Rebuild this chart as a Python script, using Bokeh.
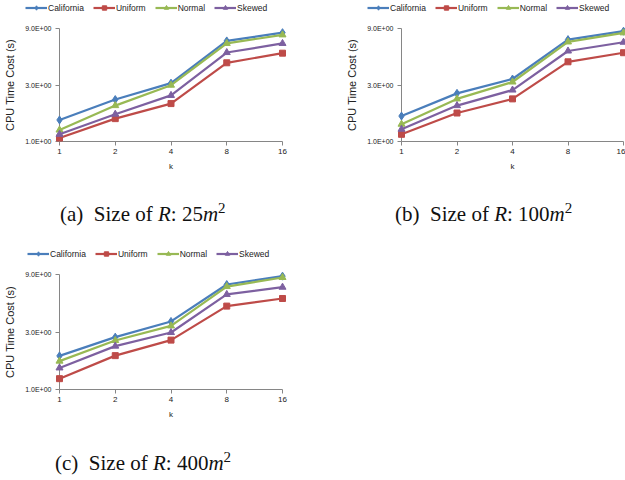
from bokeh.plotting import figure
from bokeh.models import (FixedTicker, Legend, LegendItem, Div, Range1d,
                          CustomJSTickFormatter)
from bokeh.layouts import column, row
from bokeh.embed import file_html
from bokeh.resources import INLINE

# ---------------- data ----------------
k_values = [1, 2, 4, 8, 16]
k_labels = ["1", "2", "4", "8", "16"]
series_names = ["California", "Uniform", "Normal", "Skewed"]
y_ticks = [1, 3, 9]
y_tick_labels = ["1.0E+00", "3.0E+00", "9.0E+00"]

# (a) Size of R: 25 m^2
a_california = [1.52, 2.26, 3.11, 7.07, 8.30]
a_uniform = [1.07, 1.56, 2.09, 4.62, 5.57]
a_normal = [1.25, 2.01, 2.99, 6.73, 7.95]
a_skewed = [1.15, 1.70, 2.45, 5.64, 6.73]

# (b) Size of R: 100 m^2
b_california = [1.64, 2.55, 3.37, 7.25, 8.54]
b_uniform = [1.15, 1.74, 2.29, 4.71, 5.62]
b_normal = [1.40, 2.29, 3.18, 6.93, 8.27]
b_skewed = [1.27, 2.01, 2.72, 5.81, 6.89]

# (c) Size of R: 400 m^2
c_california = [1.90, 2.72, 3.67, 7.43, 8.72]
c_uniform = [1.23, 1.91, 2.57, 4.92, 5.69]
c_normal = [1.72, 2.55, 3.37, 7.15, 8.50]
c_skewed = [1.51, 2.29, 2.97, 6.15, 7.06]

colors = ["#4A7EBB", "#BE4B48", "#98B954", "#7D60A0"]
markers = ["diamond", "square", "triangle", "triangle"]
marker_sizes = [8, 6, 7, 7]

FONT = "Liberation Sans"

LABEL_JS = """
for (let i = 0; i < vals.length; i++) {
    if (Math.abs(tick - vals[i]) < 1e-6 * vals[i]) { return labs[i]; }
}
return '';
"""


def add_series(p, series, level):
    items = []
    for name, ys, col, mk, ms in zip(series_names, series, colors, markers, marker_sizes):
        lr = p.line(k_values, ys, line_color=col, line_width=2.2, level=level)
        sr = p.scatter(k_values, ys, marker=mk, size=ms, fill_color=col,
                       line_color=col, level=level)
        items.append(LegendItem(label=name, renderers=[lr, sr], index=0))
    return items


def make_legend_fig(series, width, height, left):
    # a strip that only shows the legend; its ranges keep the data off-frame
    p = figure(width=width, height=height,
               x_range=Range1d(100, 200), y_range=Range1d(100, 200),
               x_axis_location=None, y_axis_location=None,
               output_backend="svg", toolbar_location=None,
               min_border_left=left, min_border_right=0,
               min_border_top=0, min_border_bottom=0)
    p.outline_line_color = None
    p.xgrid.visible = False
    p.ygrid.visible = False
    items = add_series(p, series, "glyph")
    leg = Legend(items=items, orientation="horizontal", location="top_left",
                 label_text_font=FONT, label_text_font_size="8.5px",
                 label_text_color="#222222",
                 glyph_width=22, glyph_height=11, label_standoff=1,
                 label_height=11, spacing=9, padding=0, margin=2,
                 border_line_alpha=0, background_fill_alpha=0)
    p.add_layout(leg, "center")
    return p


def make_panel(series, width, border_left, border_right, border_top, frame_h):
    p = figure(width=width, height=border_top + frame_h + 35,
               x_axis_type="log", y_axis_type="log",
               x_range=Range1d(1, 16), y_range=Range1d(1, 9),
               output_backend="svg", toolbar_location=None,
               min_border_left=border_left, min_border_right=border_right,
               min_border_top=border_top, min_border_bottom=35)
    p.outline_line_color = None
    p.xgrid.visible = False
    p.ygrid.visible = False
    p.background_fill_color = "white"
    p.border_fill_color = "white"

    add_series(p, series, "overlay")

    # axes
    p.xaxis.ticker = FixedTicker(ticks=k_values, minor_ticks=[])
    p.xaxis.formatter = CustomJSTickFormatter(args=dict(vals=k_values, labs=k_labels), code=LABEL_JS)
    p.yaxis.ticker = FixedTicker(ticks=y_ticks, minor_ticks=[])
    p.yaxis.formatter = CustomJSTickFormatter(args=dict(vals=y_ticks, labs=y_tick_labels), code=LABEL_JS)
    p.xaxis.axis_label = "k"
    p.yaxis.axis_label = "CPU Time Cost (s)"
    for ax in (p.xaxis, p.yaxis):
        ax.axis_line_color = "#868686"
        ax.major_tick_line_color = "#868686"
        ax.major_tick_in = 0
        ax.major_tick_out = 4
        ax.minor_tick_line_color = None
        ax.major_label_text_font = FONT
        ax.major_label_text_color = "#222222"
        ax.axis_label_text_font = FONT
        ax.axis_label_text_font_style = "normal"
        ax.axis_label_text_color = "#222222"
    p.xaxis.major_label_text_font_size = "8px"
    p.yaxis.major_label_text_font_size = "7px"
    p.xaxis.axis_label_text_font_size = "8px"
    p.yaxis.axis_label_text_font_size = "11px"
    p.xaxis.major_label_standoff = 3
    p.yaxis.major_label_standoff = 4
    p.xaxis.axis_label_standoff = 5
    p.yaxis.axis_label_standoff = 6
    return p


def caption(letter, size, width, height, pad_left, pad_top):
    html = ('<div style="font-family:\'Liberation Serif\',serif;font-size:21px;line-height:24px;'
            'color:#111;white-space:nowrap;padding-left:%dpx;padding-top:%dpx;">'
            '(%s)&nbsp;&nbsp;Size of <i>R</i>: %s<i>m</i><sup style="font-size:15px;line-height:0;">2</sup></div>'
            % (pad_left, pad_top, letter, size))
    return Div(text=html, width=width, height=height, margin=0)


series_a = [a_california, a_uniform, a_normal, a_skewed]
series_b = [b_california, b_uniform, b_normal, b_skewed]
series_c = [c_california, c_uniform, c_normal, c_skewed]

la = make_legend_fig(series_a, 343, 16, 23)
lb = make_legend_fig(series_b, 282, 16, 22)
lc = make_legend_fig(series_c, 343, 16, 25)

pa = make_panel(series_a, 343, 59, 61, 12, 113)
pb = make_panel(series_b, 282, 57, 2, 12, 113)
pc = make_panel(series_c, 343, 59, 61, 12, 115)

cap_a = caption("a", "25", 343, 70, 60, 26)
cap_b = caption("b", "100", 282, 70, 52, 26)
cap_c = caption("c", "400", 343, 55, 55, 27)

# legend strips are wrapped in their own rows so that their frames are not
# aligned with the chart frames below them
col_a = column(row(la), row(pa))
col_b = column(row(lb), row(pb))
col_c = column(row(lc), row(pc))

layout = column(row(col_a, col_b), row(cap_a, cap_b), col_c, cap_c)

open("out.html", "w").write(file_html(layout, INLINE))
